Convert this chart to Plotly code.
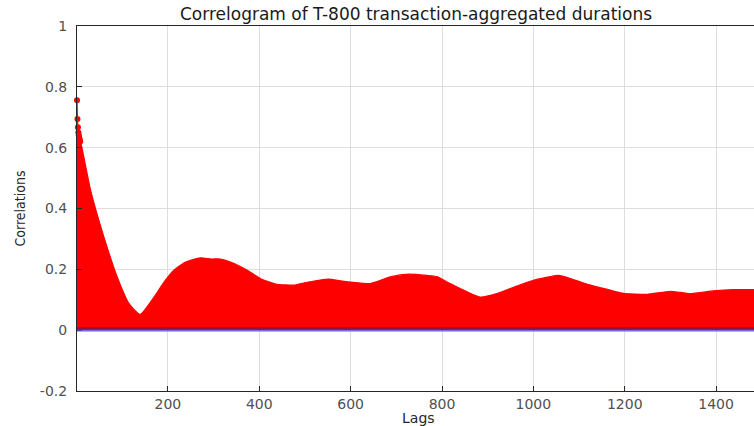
import plotly.graph_objects as go

# ---- data ----
lags = [1, 2, 3, 4, 5, 6, 7, 8, 10, 31, 60, 89, 115, 139, 177, 184, 213, 239,
        271, 295, 315, 337, 374, 403, 439, 476, 497, 552, 578, 600, 643, 687,
        727, 767, 789, 818, 855, 884, 920, 964, 1000, 1037, 1055, 1081, 1110,
        1146, 1197, 1249, 1300, 1343, 1394, 1438, 1483]
correlations = [0.756, 0.694, 0.667, 0.650, 0.641, 0.633, 0.626, 0.620, 0.612,
                0.459, 0.306, 0.175, 0.087, 0.052, 0.125, 0.142, 0.197, 0.224,
                0.238, 0.234, 0.234, 0.224, 0.197, 0.169, 0.151, 0.148, 0.155,
                0.168, 0.162, 0.158, 0.153, 0.175, 0.184, 0.180, 0.176, 0.153,
                0.126, 0.109, 0.120, 0.145, 0.164, 0.176, 0.180, 0.170, 0.155,
                0.140, 0.121, 0.118, 0.128, 0.120, 0.129, 0.133, 0.133]
n_marked = 8                      # first lags whose markers stand out
conf_upper = 0.006
conf_lower = -0.002
x_ticks = [200, 400, 600, 800, 1000, 1200, 1400]
y_ticks = [-0.2, 0, 0.2, 0.4, 0.6, 0.8, 1]
y_tick_labels = ["-0.2", "0", "0.2", "0.4", "0.6", "0.8", "1"]
title_text = "Correlogram of T-800 transaction-aggregated durations"
x_title = "Lags"
y_title = "Correlations"

FONT = "DejaVu Sans, Liberation Sans, Arial, sans-serif"
TICK_COLOR = "#505050"
AX_COLOR = "#262626"

fig = go.Figure()

# dense stems -> filled red region
fig.add_trace(go.Scatter(
    x=lags, y=correlations, mode="lines", fill="tozeroy",
    fillcolor="#ff0000", line=dict(color="#ff0000", width=1.2,
                                   shape="spline", smoothing=0.5),
    showlegend=False, hoverinfo="skip"))

# stem heads for the first lags
fig.add_trace(go.Scatter(
    x=lags[:n_marked], y=correlations[:n_marked], mode="markers",
    marker=dict(color="#ff0000", size=6, symbol="circle"),
    cliponaxis=False, showlegend=False, hoverinfo="skip"))

# confidence bounds
fig.add_shape(type="line", xref="paper", x0=0, x1=1, yref="y",
              y0=conf_upper, y1=conf_upper,
              line=dict(color="#8a1442", width=2.5))
fig.add_shape(type="line", xref="paper", x0=0, x1=1, yref="y",
              y0=conf_lower, y1=conf_lower,
              line=dict(color="#5a5ae6", width=1.3))

fig.update_layout(
    width=754, height=426,
    margin=dict(l=77, r=0, t=26, b=35),
    paper_bgcolor="white", plot_bgcolor="white",
    showlegend=False,
    font=dict(family=FONT, size=14, color=TICK_COLOR),
)

fig.update_xaxes(
    range=[1, 1483], tickvals=x_ticks, ticks="inside", ticklen=5,
    tickcolor=AX_COLOR, showline=True, linecolor=AX_COLOR, linewidth=1,
    mirror=True, showgrid=True, gridcolor="#dedede", gridwidth=1,
    zeroline=False, tickfont=dict(family=FONT, size=14, color=TICK_COLOR),
    ticklabelstandoff=0)
fig.update_yaxes(
    range=[-0.2, 1], tickvals=y_ticks, ticktext=y_tick_labels,
    ticks="inside", ticklen=5, tickcolor=AX_COLOR, showline=True,
    linecolor=AX_COLOR, linewidth=1, mirror=False, showgrid=True,
    gridcolor="#dedede", gridwidth=1, zeroline=False,
    tickfont=dict(family=FONT, size=14, color=TICK_COLOR),
    ticklabelstandoff=6)

fig.add_annotation(text=title_text, xref="paper", yref="paper", x=0.5, y=1,
                   xanchor="center", yanchor="bottom", yshift=0,
                   showarrow=False,
                   font=dict(family=FONT, size=17, color="#1a1a1a"))
fig.add_annotation(text=x_title, xref="paper", yref="paper", x=0.5, y=0,
                   xanchor="center", yanchor="top", yshift=-17, xshift=3,
                   showarrow=False,
                   font=dict(family=FONT, size=14, color="#262626"))
fig.add_annotation(text=y_title, xref="paper", yref="paper", x=0, y=0.5,
                   xanchor="center", yanchor="middle", xshift=-58,
                   textangle=-90, showarrow=False,
                   font=dict(family="Liberation Sans Narrow, DejaVu Sans Condensed, Liberation Sans, sans-serif",
                             size=14, color="#262626"))

# remove the browser's default 8px page margin so the figure fills the window
fig.write_html("out.html", config={"displayModeBar": False},
               post_script="document.body.style.margin='0';")
